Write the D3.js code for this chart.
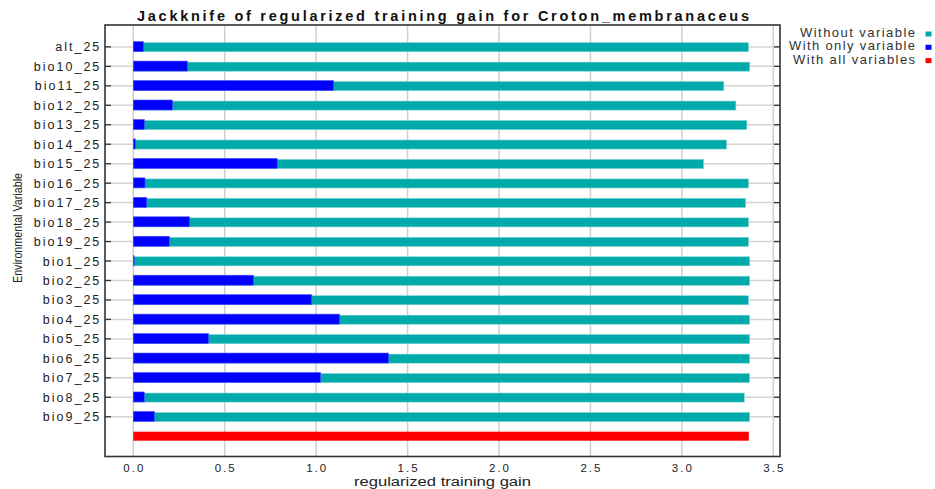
<!DOCTYPE html>
<html><head><meta charset="utf-8">
<script src="https://cdn.jsdelivr.net/npm/d3@7"></script>
<style>body{margin:0;background:#fff}svg{display:block;font-family:"Liberation Sans",Arial,sans-serif}</style>
</head><body><svg id="c" width="935" height="489"></svg>
<script>
const categories = ["alt_25","bio10_25","bio11_25","bio12_25","bio13_25","bio14_25","bio15_25","bio16_25","bio17_25","bio18_25","bio19_25","bio1_25","bio2_25","bio3_25","bio4_25","bio5_25","bio6_25","bio7_25","bio8_25","bio9_25"];
const withoutVariable = [3.364,3.370,3.229,3.295,3.355,3.244,3.118,3.364,3.348,3.364,3.364,3.370,3.370,3.364,3.370,3.370,3.370,3.370,3.341,3.370];
const withOnlyVariable = [0.055,0.296,1.095,0.214,0.060,0.011,0.787,0.064,0.073,0.308,0.197,0.005,0.657,0.975,1.128,0.411,1.396,1.024,0.060,0.115];
const withAllVariables = 3.366;
const xTicks = [0,0.5,1,1.5,2,2.5,3,3.5];
const legendItems = ["Without variable","With only variable","With all variables"];
const colors = {without:"#00AAAA", only:"#0000FF", all:"#FF0000"};

const svg = d3.select("#c");
const frame = {l:105, r:780, t:25, b:456.5};
const x = d3.scaleLinear().domain([0,3.5]).range([133.3,773.3]);
const rows = categories.concat(["__all__"]);
const y = d3.scalePoint().domain(rows).range([46.9,436.2]);

// gridlines
const g = svg.append("g");
g.selectAll(".vg").data(xTicks).join("line")
  .attr("x1",d=>x(d)).attr("x2",d=>x(d)).attr("y1",frame.t).attr("y2",frame.b)
  .attr("stroke","#cfcfcf").attr("stroke-width",1.5);
g.selectAll(".hg").data(categories).join("line")
  .attr("x1",frame.l).attr("x2",frame.r).attr("y1",d=>y(d)).attr("y2",d=>y(d))
  .attr("stroke","#d4d4d4").attr("stroke-width",1.5);

// bars
svg.append("g").selectAll("rect").data(categories).join("rect")
  .attr("x",x(0)).attr("y",d=>y(d)-4.2).attr("height",9)
  .attr("width",(d,i)=>x(withoutVariable[i])-x(0))
  .attr("fill",colors.without).attr("stroke","#6fd0d0").attr("stroke-width",0.6);
svg.append("g").selectAll("rect").data(categories).join("rect")
  .attr("x",x(0)).attr("y",d=>y(d)-5.3).attr("height",10)
  .attr("width",(d,i)=>x(withOnlyVariable[i])-x(0))
  .attr("fill",colors.only).attr("stroke","#5050ff").attr("stroke-width",0.6);
svg.append("rect").attr("x",x(0)).attr("y",y("__all__")-4.5).attr("height",9)
  .attr("width",x(withAllVariables)-x(0)).attr("fill",colors.all);

// frame
svg.append("rect").attr("x",frame.l).attr("y",frame.t).attr("width",frame.r-frame.l).attr("height",frame.b-frame.t)
  .attr("fill","none").attr("stroke","#333").attr("stroke-width",1.6);

// ticks
const tk = svg.append("g").attr("stroke","#333").attr("stroke-width",1.3);
categories.forEach(c=>{
  tk.append("line").attr("x1",frame.l).attr("x2",frame.l+6).attr("y1",y(c)).attr("y2",y(c));
  tk.append("line").attr("x1",frame.r-6).attr("x2",frame.r).attr("y1",y(c)).attr("y2",y(c));
});

// y labels
svg.append("g").selectAll("text").data(categories).join("text")
  .attr("x",101.3).attr("y",d=>y(d)+4.5).attr("text-anchor","end")
  .attr("font-size",12.5).attr("letter-spacing","2px").attr("fill","#222").text(d=>d);

// x tick labels
svg.append("g").selectAll("text").data(xTicks).join("text")
  .attr("x",d=>x(d)+1).attr("y",471.5).attr("text-anchor","middle")
  .attr("font-size",11.5).attr("letter-spacing","2px").attr("fill","#222").text(d=>d.toFixed(1));

// axis titles
svg.append("text").attr("x",354).attr("y",486).attr("font-size",12.5).attr("fill","#222")
  .attr("textLength",177).attr("lengthAdjust","spacingAndGlyphs").text("regularized training gain");
svg.append("text").attr("transform","translate(22,283) rotate(-90)").attr("font-size",12.5).attr("fill","#222")
  .attr("textLength",110).attr("lengthAdjust","spacingAndGlyphs").text("Environmental Variable");

// title
svg.append("text").attr("x",137).attr("y",21).attr("font-size",14.5).attr("font-weight","bold").attr("fill","#111")
  .attr("textLength",612).attr("lengthAdjust","spacing").text("Jackknife of regularized training gain for Croton_membranaceus");

// legend
const legendWidths = [115,126,122];
const legendColors = [colors.without, colors.only, colors.all];
legendItems.forEach((t,i)=>{
  const by = 37 + i*13.3;
  svg.append("text").attr("x",915-legendWidths[i]).attr("y",by).attr("font-size",13).attr("fill","#333")
    .attr("textLength",legendWidths[i]).attr("lengthAdjust","spacing").text(t);
  svg.append("rect").attr("x",925.5).attr("y",by-5.5).attr("width",6).attr("height",5).attr("fill",legendColors[i]);
});
</script></body></html>
